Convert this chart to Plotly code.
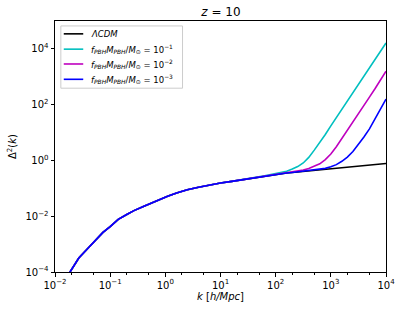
import plotly.graph_objects as go

# k grid [h/Mpc]
k = [0.015, 0.019, 0.027, 0.04, 0.055, 0.074, 0.1, 0.14, 0.2, 0.27, 0.4, 0.56, 0.8,
     1.1, 1.6, 2.5, 4, 6, 10, 16, 25, 40, 63,
     100, 126, 158, 200, 251, 316, 398, 501, 631, 794,
     1000, 1259, 1585, 1995, 2512, 3162, 3981, 5012, 6310, 7943, 10000]

# log10 of Delta^2(k)
low = [-4.3, -3.96, -3.5, -3.14, -2.85, -2.58, -2.37, -2.11, -1.94, -1.80, -1.65, -1.52, -1.40,
       -1.28, -1.17, -1.05, -0.96, -0.89, -0.81, -0.75, -0.69, -0.61, -0.55]
log_lcdm = low + [-0.49, -0.47, -0.45, -0.43, -0.41, -0.39, -0.37, -0.35, -0.33, -0.31,
                  -0.29, -0.27, -0.25, -0.23, -0.21, -0.19, -0.17, -0.155, -0.14, -0.125, -0.11]
log_f1 = low + [-0.47, -0.43, -0.385, -0.31, -0.22, -0.09, 0.11, 0.37, 0.64, 0.93,
                1.24, 1.54, 1.82, 2.11, 2.41, 2.71, 3.01, 3.31, 3.61, 3.91, 4.21]
log_f2 = low + [-0.49, -0.47, -0.45, -0.42, -0.39, -0.345, -0.29, -0.21, -0.12, 0.03,
                0.23, 0.49, 0.78, 1.09, 1.40, 1.68, 1.97, 2.27, 2.57, 2.89, 3.20]
log_f3 = low + [-0.49, -0.47, -0.45, -0.43, -0.41, -0.39, -0.37, -0.35, -0.32, -0.285,
                -0.23, -0.15, -0.03, 0.12, 0.32, 0.56, 0.84, 1.13, 1.47, 1.83, 2.20]

x_tick_exp = [-2, -1, 0, 1, 2, 3, 4]
y_tick_exp = [-4, -2, 0, 2, 4]

names = [
    "<i>ΛCDM</i>",
    "<i>f</i><sub><i>PBH</i></sub><i>M</i><sub><i>PBH</i></sub>/<i>M</i><sub>⊙</sub> = 10<sup>−1</sup>",
    "<i>f</i><sub><i>PBH</i></sub><i>M</i><sub><i>PBH</i></sub>/<i>M</i><sub>⊙</sub> = 10<sup>−2</sup>",
    "<i>f</i><sub><i>PBH</i></sub><i>M</i><sub><i>PBH</i></sub>/<i>M</i><sub>⊙</sub> = 10<sup>−3</sup>",
]
colors = ["#000000", "#00bfbf", "#bf00bf", "#0000ff"]
series = [log_lcdm, log_f1, log_f2, log_f3]

# plot area in pixels
L, R, T, B = 51, 391, 21, 275
W, H = R - L, B - T


def pow_label(e):
    return "10<sup>" + (str(e) if e >= 0 else "−" + str(-e)) + "</sup>"


def px(xp):
    return (xp - L) / W


def py(yp):
    return (B - yp) / H


fig = go.Figure()
for nm, c, s in zip(names, colors, series):
    fig.add_trace(go.Scatter(x=k, y=[10 ** v for v in s], mode="lines", name=nm,
                             showlegend=False,
                             line=dict(color=c, width=1.6)))

# legend drawn as a box with samples
fig.add_shape(type="rect", xref="paper", yref="paper",
              x0=px(57), x1=px(182), y0=py(89), y1=py(26),
              line=dict(color="#cccccc", width=1), fillcolor="rgba(255,255,255,0.8)")
entry_y = [34, 49.5, 64.5, 80]
for nm, c, ey in zip(names, colors, entry_y):
    fig.add_shape(type="line", xref="paper", yref="paper",
                  x0=px(60), x1=px(80), y0=py(ey), y1=py(ey),
                  line=dict(color=c, width=1.6))
    fig.add_annotation(text=nm, xref="paper", yref="paper", x=px(86), y=py(ey),
                       xanchor="left", yanchor="middle", showarrow=False,
                       font=dict(family="DejaVu Sans", size=8.5, color="black"))

fig.update_layout(
    width=407, height=313,
    margin=dict(l=L, r=407 - R, t=T, b=313 - B),
    paper_bgcolor="white", plot_bgcolor="white",
    font=dict(family="DejaVu Sans", size=10, color="black"),
    title=dict(text="<i>z</i> = 10", x=(L + R) / 2 / 407, xanchor="center",
               y=1 - 12 / 313, yanchor="middle", font=dict(family="DejaVu Sans", size=12)),
    showlegend=False,
)
fig.update_xaxes(type="log", range=[-2, 4],
                 tickvals=[10 ** e for e in x_tick_exp],
                 ticktext=[pow_label(e) for e in x_tick_exp],
                 showgrid=False, zeroline=False, showline=True, linecolor="black",
                 linewidth=1, mirror=True, ticks="outside", ticklen=3.5,
                 tickcolor="black",
                 minor=dict(ticks="outside", ticklen=2, tickcolor="black", showgrid=False),
                 title=dict(text="<i>k</i> [<i>h/Mpc</i>]", standoff=3,
                            font=dict(family="DejaVu Sans", size=10)))
fig.update_yaxes(type="log", range=[-4, 5],
                 tickvals=[10 ** e for e in y_tick_exp],
                 ticktext=[pow_label(e) for e in y_tick_exp],
                 showgrid=False, zeroline=False, showline=True, linecolor="black",
                 linewidth=1, mirror=True, ticks="outside", ticklen=3.5,
                 tickcolor="black",
                 title=dict(text="Δ<sup>2</sup>(<i>k</i>)", standoff=6,
                            font=dict(family="DejaVu Sans", size=10)))
fig.write_html("out.html", post_script="document.body.style.margin='0';",
               config={"displayModeBar": False})
